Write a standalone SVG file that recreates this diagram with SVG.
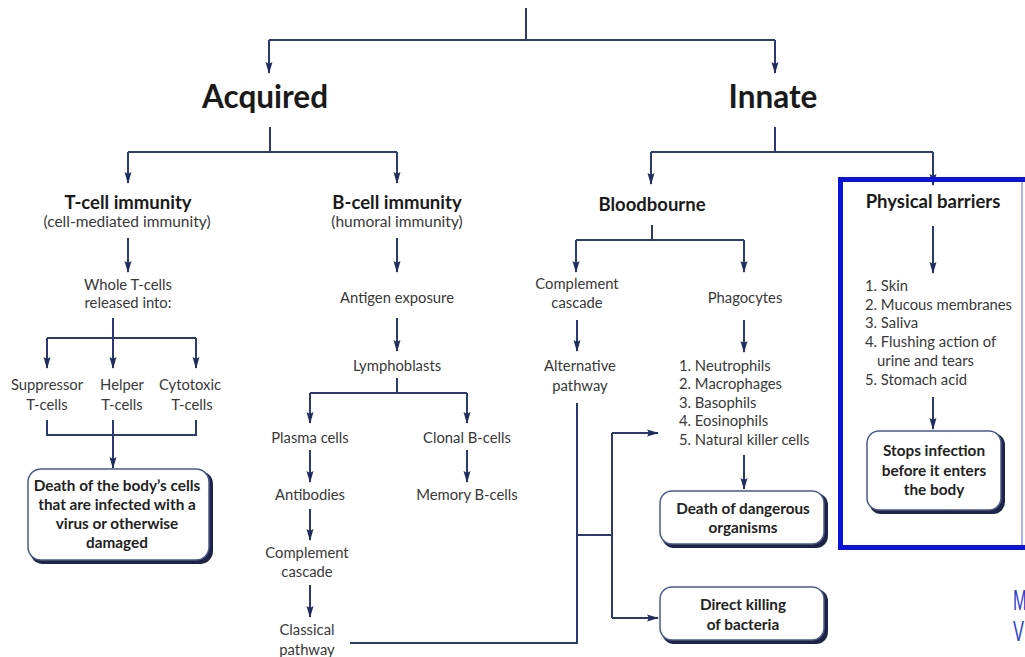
<svg xmlns="http://www.w3.org/2000/svg" width="1025" height="657" viewBox="0 0 1025 657">
<style>
.ln{fill:none;stroke:#2b3a6f;stroke-width:2}
.ar{marker-end:url(#ah)}
text{font-family:Lato,"Liberation Sans",sans-serif;fill:#383838;text-anchor:middle}
.h1{font-size:31.5px;font-weight:bold;fill:#1a1a1a}
.h2{font-size:18.5px;font-weight:bold;fill:#1a1a1a}
.sub{font-size:15.5px}
.s{font-size:14.8px}
.b{font-size:15.3px;font-weight:bold;fill:#222}
.l{text-anchor:start}
.box{fill:#fff;stroke:#4a5a8a;stroke-width:1.5}
.sh{fill:#1c2448}
.cn{font-family:"Liberation Sans",sans-serif;font-size:30px;fill:#2f3fc8;text-anchor:start}
</style>
<defs>
<marker id="ah" markerUnits="userSpaceOnUse" markerWidth="12" markerHeight="10" viewBox="0 0 12 10" refX="11" refY="5" orient="auto">
<path d="M0,1.5 L12,5 L0,8.5 L2,5 Z" fill="#1f2d5e"/>
</marker>
</defs>
<rect width="1025" height="657" fill="#fff"/>
<g id="connectors">
<path class="ln" d="M526,8 V40 M269,40 H775 M270,127 V152 M128,152 H397 M775,127 V152 M651,152 H933"/>
<path class="ln ar" d="M269,40 V73"/>
<path class="ln ar" d="M775,40 V73"/>
<path class="ln ar" d="M128,152 V183"/>
<path class="ln ar" d="M397,152 V183"/>
<path class="ln ar" d="M651,152 V184"/>
<path class="ln ar" d="M933,152 V185"/>
<path class="ln ar" d="M128,238 V272"/>
<path class="ln" d="M113,318 V338 M47,338 H196"/>
<path class="ln ar" d="M47,338 V368"/>
<path class="ln ar" d="M113,338 V368"/>
<path class="ln ar" d="M196,338 V368"/>
<path class="ln" d="M47,420 V435 H196 V420"/>
<path class="ln ar" d="M113,420 V468"/>
<path class="ln ar" d="M397,238 V272"/>
<path class="ln ar" d="M397,318 V351"/>
<path class="ln" d="M397,378 V393 M310,393 H467"/>
<path class="ln ar" d="M310,393 V423"/>
<path class="ln ar" d="M467,393 V423"/>
<path class="ln ar" d="M310,450 V482"/>
<path class="ln ar" d="M467,450 V482"/>
<path class="ln ar" d="M310,509 V540"/>
<path class="ln ar" d="M310,585 V617"/>
<path class="ln" d="M350,643 H577 V403 M577,535 H612 M612,433 V618"/>
<path class="ln ar" d="M612,433 H658"/>
<path class="ln ar" d="M612,618 H658"/>
<path class="ln" d="M652,225 V240 M576,240 H744"/>
<path class="ln ar" d="M576,240 V272"/>
<path class="ln ar" d="M744,240 V272"/>
<path class="ln ar" d="M577,320 V351"/>
<path class="ln ar" d="M744,320 V352"/>
<path class="ln ar" d="M744,455 V489"/>
<path class="ln ar" d="M933,226 V273"/>
<path class="ln ar" d="M933,397 V429"/>
</g>
<g id="acquired"><text class="h1" x="265" y="108">Acquired</text></g>
<g id="innate"><text class="h1" x="773" y="108">Innate</text></g>
<g id="tcell"><text class="h2" x="128" y="209">T-cell immunity</text><text class="sub" x="127" y="227">(cell-mediated immunity)</text></g>
<g id="bcell"><text class="h2" x="397" y="209">B-cell immunity</text><text class="sub" x="397" y="227">(humoral immunity)</text></g>
<g id="bloodbourne"><text class="h2" x="652" y="211">Bloodbourne</text></g>
<g id="physical">
<rect x="840.5" y="179.5" width="190" height="368" fill="none" stroke="#0a14d8" stroke-width="5"/>
<line x1="1022" y1="182" x2="1022" y2="545" stroke="#8f95e8" stroke-width="1.5"/>
<text class="h2" x="933" y="208">Physical barriers</text>
</g>
<g id="wholet"><text class="s" x="128" y="290">Whole T-cells</text><text class="s" x="128" y="308">released into:</text></g>
<g id="suppressor"><text class="s" x="47" y="390">Suppressor</text><text class="s" x="47" y="410">T-cells</text></g>
<g id="helper"><text class="s" x="122" y="390">Helper</text><text class="s" x="122" y="410">T-cells</text></g>
<g id="cytotoxic"><text class="s" x="190" y="390">Cytotoxic</text><text class="s" x="192" y="410">T-cells</text></g>
<g id="death-body">
<rect class="sh" x="30" y="471" width="183" height="93" rx="13"/>
<rect class="box" x="28" y="469" width="181" height="91" rx="13"/>
<text class="b" x="117" y="491">Death of the body’s cells</text>
<text class="b" x="117" y="510">that are infected with a</text>
<text class="b" x="117" y="529">virus or otherwise</text>
<text class="b" x="117" y="548">damaged</text>
</g>
<g id="antigen"><text class="s" x="397" y="303">Antigen exposure</text></g>
<g id="lympho"><text class="s" x="397" y="371">Lymphoblasts</text></g>
<g id="plasma"><text class="s" x="310" y="443">Plasma cells</text></g>
<g id="clonal"><text class="s" x="467" y="443">Clonal B-cells</text></g>
<g id="antibodies"><text class="s" x="310" y="500">Antibodies</text></g>
<g id="memory"><text class="s" x="467" y="500">Memory B-cells</text></g>
<g id="complement-b"><text class="s" x="307" y="558">Complement</text><text class="s" x="307" y="577">cascade</text></g>
<g id="classical"><text class="s" x="307" y="635">Classical</text><text class="s" x="307" y="655">pathway</text></g>
<g id="complement-i"><text class="s" x="577" y="289">Complement</text><text class="s" x="577" y="308">cascade</text></g>
<g id="alternative"><text class="s" x="580" y="371">Alternative</text><text class="s" x="580" y="391">pathway</text></g>
<g id="phagocytes"><text class="s" x="745" y="303">Phagocytes</text></g>
<g id="phago-list">
<text class="s l" x="679" y="371">1. Neutrophils</text>
<text class="s l" x="679" y="389">2. Macrophages</text>
<text class="s l" x="679" y="408">3. Basophils</text>
<text class="s l" x="679" y="426">4. Eosinophils</text>
<text class="s l" x="679" y="445">5. Natural killer cells</text>
</g>
<g id="death-danger">
<rect class="sh" x="662" y="493" width="166" height="55" rx="12"/>
<rect class="box" x="660" y="491" width="164" height="53" rx="12"/>
<text class="b" x="743" y="514">Death of dangerous</text>
<text class="b" x="743" y="533">organisms</text>
</g>
<g id="direct-kill">
<rect class="sh" x="662" y="589" width="166" height="55" rx="12"/>
<rect class="box" x="660" y="587" width="164" height="53" rx="12"/>
<text class="b" x="743" y="610">Direct killing</text>
<text class="b" x="743" y="630">of bacteria</text>
</g>
<g id="barrier-list">
<text class="s l" x="865" y="291">1. Skin</text>
<text class="s l" x="865" y="310">2. Mucous membranes</text>
<text class="s l" x="865" y="328">3. Saliva</text>
<text class="s l" x="865" y="347">4. Flushing action of</text>
<text class="s l" x="877" y="366">urine and tears</text>
<text class="s l" x="865" y="385">5. Stomach acid</text>
</g>
<g id="stops">
<rect class="sh" x="869" y="433" width="136" height="81" rx="12"/>
<rect class="box" x="867" y="431" width="134" height="79" rx="12"/>
<text class="b" x="934" y="456">Stops infection</text>
<text class="b" x="934" y="476">before it enters</text>
<text class="b" x="934" y="495">the body</text>
</g>
<g id="corner-text">
<text class="cn" x="1013" y="610" transform="translate(1013 0) scale(0.55 1) translate(-1013 0)">M</text>
<text class="cn" x="1013" y="641" transform="translate(1013 0) scale(0.55 1) translate(-1013 0)">V</text>
</g>
</svg>
